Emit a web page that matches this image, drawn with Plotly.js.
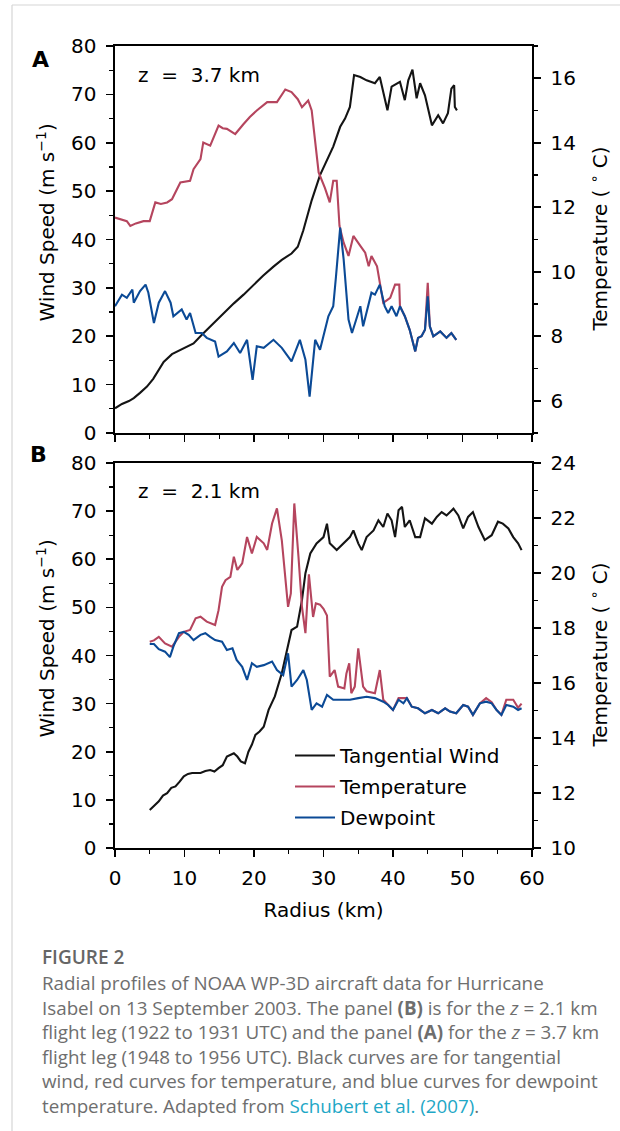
<!DOCTYPE html>
<html>
<head>
<meta charset="utf-8">
<script src="https://cdn.plot.ly/plotly-3.0.1.min.js"></script>
<style>html,body{margin:0;padding:0;background:#fff;}#chart{width:620px;height:1131px;}</style>
</head>
<body>
<div id="chart"></div>
<script>
// ---------- Panel A (z = 3.7 km) ----------
const radiusA_wind = [0, 1.0, 2.0, 2.7, 3.6, 4.6, 5.5, 6.3, 7.0, 8.2, 9.4, 10.3, 11.3, 12.5, 13.7, 15.0, 16.0, 17.1, 18.5, 19.9, 21.3, 22.8, 24.0, 25.4, 26.3, 27.1, 28.3, 29.5, 30.9, 31.4, 32.4, 33.1, 33.8, 34.4, 35.3, 36.2, 37.4, 38.1, 39.2, 39.8, 41.0, 41.7, 42.2, 42.8, 43.4, 43.9, 44.6, 45.6, 46.5, 47.2, 47.9, 48.4, 48.8, 48.9, 49.2];
const windA = [5.1, 6.0, 6.6, 7.2, 8.3, 9.6, 11.2, 13.0, 14.7, 16.3, 17.1, 17.8, 18.5, 20.3, 22.0, 24.0, 25.3, 26.8, 28.6, 30.6, 32.5, 34.4, 35.8, 37.1, 38.5, 41.9, 48.1, 53.3, 57.8, 59.2, 63.3, 65.0, 67.4, 74.0, 73.6, 72.9, 72.3, 73.6, 66.7, 71.6, 72.6, 68.8, 72.9, 75.1, 69.2, 72.3, 69.8, 63.6, 65.7, 64.0, 66.1, 71.2, 71.9, 67.4, 66.7];

const radiusA_temp = [0, 0.8, 1.7, 2.2, 3.0, 4.1, 5.0, 5.8, 6.6, 7.5, 8.2, 9.4, 10.8, 11.3, 12.3, 12.7, 13.7, 14.9, 15.5, 16.1, 17.3, 18.5, 19.4, 20.4, 21.9, 23.3, 24.5, 25.4, 26.3, 26.9, 27.8, 28.3, 29.3, 30.2, 30.9, 31.4, 31.9, 32.3, 32.9, 33.6, 34.3, 35.3, 36.0, 36.5, 36.9, 37.7, 38.1, 38.6, 39.0, 39.6, 40.3, 40.9, 41.0, 41.7, 42.4, 43.2, 43.6, 44.1, 44.6, 45.0, 45.3, 45.8, 46.8, 47.7, 48.4, 49.1];
const tempA = [11.68, 11.62, 11.57, 11.42, 11.5, 11.57, 11.57, 12.15, 12.1, 12.15, 12.25, 12.77, 12.82, 13.18, 13.49, 14.01, 13.91, 14.53, 14.45, 14.43, 14.27, 14.58, 14.8, 15.0, 15.26, 15.26, 15.65, 15.57, 15.35, 15.10, 15.31, 15.0, 13.08, 12.6, 12.15, 12.82, 12.82, 11.42, 10.90, 10.49, 11.11, 10.80, 10.59, 10.17, 10.49, 10.17, 9.66, 9.04, 9.1, 9.19, 9.60, 9.60, 8.93, 8.62, 8.20, 7.53, 7.95, 8.0, 8.2, 9.66, 8.31, 8.0, 8.15, 7.95, 8.10, 7.89];

const radiusA_dew = [0, 1.0, 1.7, 2.5, 2.7, 3.6, 4.4, 4.8, 5.6, 6.3, 7.2, 8.0, 8.4, 9.6, 10.3, 10.8, 11.6, 12.5, 13.2, 14.4, 14.9, 16.1, 17.1, 18.0, 19.0, 19.8, 20.4, 21.4, 22.8, 24.0, 25.4, 26.6, 27.4, 28.0, 28.8, 29.5, 30.7, 31.4, 31.8, 32.4, 32.9, 33.6, 34.1, 34.8, 35.3, 35.7, 36.5, 36.9, 37.4, 38.1, 38.8, 39.3, 39.8, 40.5, 41.0, 41.7, 42.4, 43.2, 43.6, 44.1, 44.6, 45.0, 45.3, 45.8, 46.8, 47.7, 48.4, 49.1];
const dewA = [8.93, 9.29, 9.19, 9.45, 9.04, 9.40, 9.60, 9.35, 8.41, 9.04, 9.40, 9.04, 8.62, 8.83, 8.52, 8.72, 8.10, 8.10, 7.95, 7.84, 7.37, 7.53, 7.79, 7.48, 7.89, 6.65, 7.69, 7.64, 7.89, 7.64, 7.22, 7.89, 7.27, 6.13, 7.89, 7.58, 8.62, 8.93, 9.86, 11.37, 10.38, 8.52, 8.10, 8.62, 8.93, 8.31, 9.04, 9.35, 9.29, 9.60, 8.93, 8.72, 8.93, 8.62, 8.93, 8.62, 8.20, 7.53, 7.95, 8.0, 8.2, 9.24, 8.31, 8.0, 8.15, 7.95, 8.10, 7.89];

// ---------- Panel B (z = 2.1 km) ----------
const radiusB_wind = [5.0, 5.6, 6.3, 6.9, 7.5, 8.1, 8.7, 9.3, 9.9, 10.5, 11.1, 12.3, 13.0, 13.7, 14.3, 14.9, 15.5, 16.1, 17.1, 17.6, 18.1, 18.7, 19.2, 19.7, 20.2, 20.8, 21.4, 22.1, 23.0, 24.0, 24.7, 25.4, 26.2, 26.9, 27.4, 28.1, 29.0, 30.0, 30.5, 30.9, 31.9, 32.9, 33.8, 34.3, 35.0, 35.5, 36.2, 37.2, 37.9, 38.6, 39.2, 39.8, 40.3, 40.8, 41.3, 41.7, 42.4, 43.2, 43.9, 44.6, 45.6, 46.3, 47.0, 47.7, 48.7, 49.4, 50.1, 50.8, 51.5, 52.3, 53.2, 54.2, 55.1, 55.8, 56.6, 57.3, 58.0, 58.5];
const windB = [7.9, 8.8, 9.7, 10.9, 11.4, 12.5, 12.8, 13.8, 14.9, 15.4, 15.6, 15.6, 16.0, 16.2, 15.9, 16.6, 17.2, 19.0, 19.7, 19.0, 18.0, 17.6, 20.0, 21.5, 23.5, 24.2, 25.2, 28.7, 31.5, 36.3, 40.5, 45.3, 46.0, 51.5, 57.1, 61.2, 63.3, 64.6, 67.4, 63.3, 61.9, 63.3, 64.6, 66.0, 63.3, 61.9, 64.6, 66.0, 68.1, 66.7, 69.5, 68.1, 64.6, 70.2, 70.9, 66.7, 68.1, 64.6, 64.6, 68.5, 67.4, 68.8, 69.8, 69.1, 70.5, 69.1, 66.4, 68.8, 69.8, 66.7, 64.0, 65.0, 67.8, 67.4, 66.4, 64.6, 63.3, 61.9];

const radiusB_temp = [5.0, 5.6, 6.3, 7.2, 8.2, 9.2, 9.9, 10.8, 11.6, 12.3, 13.2, 14.4, 14.9, 15.4, 15.9, 16.6, 17.1, 17.6, 18.3, 19.0, 19.7, 20.4, 21.4, 21.9, 22.6, 23.3, 24.0, 24.5, 24.9, 25.3, 25.8, 26.4, 26.9, 27.4, 27.9, 28.5, 28.9, 29.5, 30.0, 30.5, 30.9, 31.6, 32.1, 33.0, 33.3, 33.7, 34.0, 34.5, 35.0, 35.7, 36.2, 37.4, 38.1, 38.6, 39.3, 40.0, 40.8, 41.5, 42.0, 42.7, 43.6, 44.6, 45.6, 46.5, 47.5, 48.2, 49.1, 50.1, 50.8, 51.5, 52.5, 53.4, 54.2, 54.9, 55.6, 56.3, 57.3, 58.0, 58.5];
const tempB = [17.50, 17.55, 17.68, 17.44, 17.32, 17.68, 17.86, 17.93, 18.35, 18.41, 18.23, 18.11, 18.65, 19.5, 19.74, 19.86, 20.59, 20.11, 20.35, 21.31, 20.71, 21.31, 21.08, 20.84, 21.80, 22.35, 21.19, 19.74, 18.77, 19.26, 22.53, 20.59, 18.77, 17.81, 19.95, 18.4, 18.9, 18.85, 18.7, 18.45, 16.23, 16.47, 15.87, 15.8, 16.35, 16.72, 15.63, 15.87, 17.26, 15.87, 15.7, 15.63, 16.47, 15.39, 15.2, 15.02, 15.45, 15.45, 15.45, 15.14, 15.08, 14.90, 15.02, 14.90, 15.08, 14.96, 14.90, 15.2, 15.14, 14.84, 15.26, 15.45, 15.3, 15.02, 14.84, 15.39, 15.39, 15.1, 15.25];

const radiusB_dew = [5.0, 5.6, 6.3, 7.2, 7.9, 8.4, 9.2, 9.9, 10.6, 11.3, 12.3, 13.0, 13.7, 14.4, 15.4, 16.1, 16.9, 17.5, 18.3, 19.0, 19.7, 20.4, 21.4, 22.6, 23.3, 24.2, 24.9, 25.4, 26.2, 27.1, 27.6, 28.3, 29.0, 29.8, 30.5, 31.4, 32.6, 33.8, 35.0, 36.2, 37.4, 38.6, 39.3, 40.0, 40.8, 41.5, 42.0, 42.7, 43.6, 44.6, 45.6, 46.5, 47.5, 48.2, 49.1, 50.1, 50.8, 51.5, 52.5, 53.4, 54.2, 54.9, 55.6, 56.3, 57.3, 58.0, 58.5];
const dewB = [17.42, 17.42, 17.23, 17.14, 16.94, 17.32, 17.81, 17.86, 17.75, 17.56, 17.75, 17.81, 17.68, 17.56, 17.5, 17.2, 17.26, 16.84, 16.59, 16.11, 16.72, 16.59, 16.65, 16.78, 16.47, 16.29, 17.08, 15.87, 16.11, 16.47, 16.11, 15.02, 15.26, 15.14, 15.57, 15.39, 15.39, 15.39, 15.45, 15.5, 15.45, 15.32, 15.2, 15.02, 15.39, 15.26, 15.45, 15.14, 15.08, 14.90, 15.02, 14.90, 15.08, 14.96, 14.90, 15.2, 15.14, 14.84, 15.26, 15.32, 15.26, 15.02, 14.84, 15.2, 15.14, 15.02, 15.08];

const seriesNames = ['Tangential Wind', 'Temperature', 'Dewpoint'];
const panelLabels = ['A', 'B'];
const heightLabels = ['z\u00a0\u00a0=\u00a0\u00a03.7 km', 'z\u00a0\u00a0=\u00a0\u00a02.1 km'];
const windTicks = [0, 10, 20, 30, 40, 50, 60, 70, 80];
const radiusTicks = [0, 10, 20, 30, 40, 50, 60];

// ---------- styling ----------
const FONT = 'DejaVu Sans, sans-serif';
const C_BLACK = '#141414', C_RED = '#b5455e', C_BLUE = '#0b4a96';
const LW = 2.1;
const W = 620, H = 1131;
const M = {l: 115, r: 88, t: 46, b: 283};
const plotW = W - M.l - M.r, plotH = H - M.t - M.b;
const px = x => (x - M.l) / plotW;
const py = y => (H - M.b - y) / plotH;

const traces = [
  {x: radiusA_wind, y: windA, xaxis: 'x', yaxis: 'y', mode: 'lines', line: {color: C_BLACK, width: LW}, showlegend: false, name: seriesNames[0]},
  {x: radiusA_temp, y: tempA, xaxis: 'x', yaxis: 'y2', mode: 'lines', line: {color: C_RED, width: LW}, showlegend: false, name: seriesNames[1]},
  {x: radiusA_dew, y: dewA, xaxis: 'x', yaxis: 'y2', mode: 'lines', line: {color: C_BLUE, width: LW}, showlegend: false, name: seriesNames[2]},
  {x: radiusB_wind, y: windB, xaxis: 'x2', yaxis: 'y3', mode: 'lines', line: {color: C_BLACK, width: LW}, name: seriesNames[0], legendgroup: 'g1'},
  {x: radiusB_temp, y: tempB, xaxis: 'x2', yaxis: 'y4', mode: 'lines', line: {color: C_RED, width: LW}, name: seriesNames[1], legendgroup: 'g2'},
  {x: radiusB_dew, y: dewB, xaxis: 'x2', yaxis: 'y4', mode: 'lines', line: {color: C_BLUE, width: LW}, name: seriesNames[2], legendgroup: 'g3'}
];

const tickFont = {family: FONT, size: 20, color: '#000'};
const baseAxis = {
  showgrid: false, zeroline: false, showline: true, linecolor: '#000', linewidth: 1.6,
  ticks: 'outside', ticklen: 7, tickwidth: 1.6, tickcolor: '#000', tickfont: tickFont
};
const xCommon = Object.assign({}, baseAxis, {
  range: [0, 60], tickmode: 'array', tickvals: radiusTicks, mirror: true, ticklabelstandoff: 4,
  minor: {ticks: 'outside', dtick: 5, ticklen: 4, tickwidth: 1.3, tickcolor: '#000'}
});
const wCommon = Object.assign({}, baseAxis, {
  range: [0, 80], tickmode: 'array', tickvals: windTicks, ticklabelstandoff: 6,
  minor: {ticks: 'outside', dtick: 5, ticklen: 4, tickwidth: 1.3, tickcolor: '#000'}
});
const tCommon = Object.assign({}, baseAxis, {
  side: 'right', dtick: 2, tick0: 0, ticklabelstandoff: 6,
  minor: {ticks: 'outside', dtick: 1, ticklen: 4, tickwidth: 1.3, tickcolor: '#000'}
});

const domA = [py(433), 1];
const domB = [0, py(463)];

const layout = {
  width: W, height: H, margin: M,
  paper_bgcolor: '#fff', plot_bgcolor: '#fff',
  font: {family: FONT, color: '#000'},
  showlegend: true,
  xaxis: Object.assign({}, xCommon, {anchor: 'y', showticklabels: false}),
  xaxis2: Object.assign({}, xCommon, {anchor: 'y3', matches: 'x',
    title: {text: 'Radius (km)', font: {family: FONT, size: 20, color: '#000'}, standoff: 14}}),
  yaxis: Object.assign({}, wCommon, {domain: domA, anchor: 'x'}),
  yaxis2: Object.assign({}, tCommon, {domain: domA, overlaying: 'y', anchor: 'x', range: [5, 17]}),
  yaxis3: Object.assign({}, wCommon, {domain: domB, anchor: 'x2'}),
  yaxis4: Object.assign({}, tCommon, {domain: domB, overlaying: 'y3', anchor: 'x2', range: [10, 24]}),
  legend: {
    x: px(290), y: py(736), xanchor: 'left', yanchor: 'top',
    bgcolor: 'rgba(0,0,0,0)', borderwidth: 0,
    font: {family: FONT, size: 20, color: '#000'},
    itemwidth: 40, traceorder: 'grouped', tracegroupgap: 2
  },
  annotations: [],
  shapes: [
    {type: 'line', xref: 'paper', yref: 'paper', x0: px(12), x1: px(620), y0: py(5), y1: py(5), line: {color: '#d6d6d6', width: 1.2}},
    {type: 'line', xref: 'paper', yref: 'paper', x0: px(12), x1: px(12), y0: py(5), y1: py(1131), line: {color: '#d6d6d6', width: 1.2}}
  ]
};

const ann = layout.annotations;
// panel letters
ann.push({text: '<b>' + panelLabels[0] + '</b>', xref: 'paper', yref: 'paper', x: px(40), y: py(59), xanchor: 'center', yanchor: 'middle', showarrow: false, font: {family: FONT, size: 22, color: '#000'}});
ann.push({text: '<b>' + panelLabels[1] + '</b>', xref: 'paper', yref: 'paper', x: px(38), y: py(454), xanchor: 'center', yanchor: 'middle', showarrow: false, font: {family: FONT, size: 22, color: '#000'}});
// height labels
ann.push({text: heightLabels[0], xref: 'x domain', yref: 'y domain', x: 0.05, y: 0.925, xanchor: 'left', yanchor: 'middle', showarrow: false, font: {family: FONT, size: 20, color: '#000'}});
ann.push({text: heightLabels[1], xref: 'x2 domain', yref: 'y3 domain', x: 0.05, y: 0.928, xanchor: 'left', yanchor: 'middle', showarrow: false, font: {family: FONT, size: 20, color: '#000'}});
// axis titles
['y', 'y3'].forEach(function (ax) {
  ann.push({text: 'Wind Speed (m s<sup>\u22121</sup>)', xref: 'paper', yref: ax + ' domain', x: px(45), y: 0.5, yshift: 17, xanchor: 'center', yanchor: 'middle', textangle: -90, showarrow: false, font: {family: FONT, size: 20, color: '#000'}});
});
['y2', 'y4'].forEach(function (ax) {
  ann.push({text: 'Temperature ( <sup>\u2218</sup> C)', xref: 'paper', yref: ax + ' domain', x: px(598), y: 0.5, xanchor: 'center', yanchor: 'middle', textangle: -90, showarrow: false, font: {family: FONT, size: 20, color: '#000'}});
});

// caption
const CAP_FONT = 'Open Sans, Lato, sans-serif';
const captionLines = [
  'Radial profiles of NOAA WP-3D aircraft data for Hurricane',
  'Isabel on 13 September 2003. The panel <b>(B)</b> is for the <i>z</i> = 2.1 km',
  'flight leg (1922 to 1931 UTC) and the panel <b>(A)</b> for the <i>z</i> = 3.7 km',
  'flight leg (1948 to 1956 UTC). Black curves are for tangential',
  'wind, red curves for temperature, and blue curves for dewpoint',
  'temperature. Adapted from <span style="color:#1ea7c6">Schubert et al. (2007)</span>.'
];
ann.push({text: 'FIGURE 2', xref: 'paper', yref: 'paper', x: px(40), y: py(957), xanchor: 'left', yanchor: 'middle', showarrow: false, font: {family: CAP_FONT, size: 19, color: '#666666', weight: 600}});
captionLines.forEach(function (t, i) {
  ann.push({text: t, xref: 'paper', yref: 'paper', x: px(40), y: py(983 + i * 24.5), xanchor: 'left', yanchor: 'middle', showarrow: false, align: 'left', font: {family: CAP_FONT, size: 18.8, color: '#6e6e6e'}});
});

Plotly.newPlot('chart', traces, layout, {staticPlot: true, displayModeBar: false});
</script>
</body>
</html>
